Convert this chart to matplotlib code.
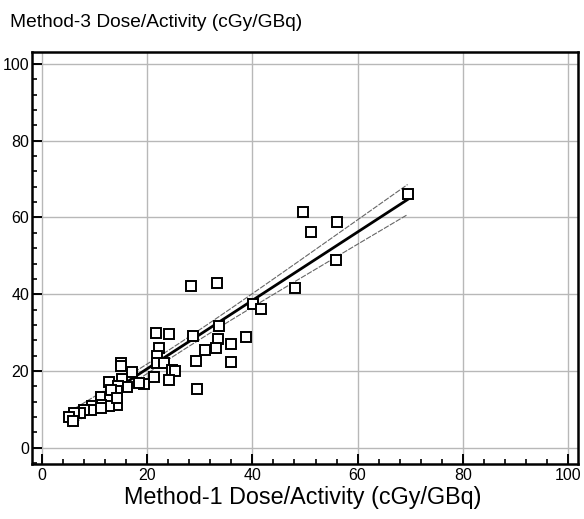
import numpy as np
import matplotlib
matplotlib.use("Agg")
import matplotlib.pyplot as plt
from matplotlib.ticker import MultipleLocator

plt.rcParams['font.family'] = ['Liberation Sans', 'DejaVu Sans']

# Method-1 (x) vs Method-3 (y) dose/activity, cGy/GBq
method1 = [69.5, 49.6, 56.1, 51.1, 55.9, 48.1, 28.3, 33.2, 40.1, 41.6,
           33.6, 28.8, 33.5, 38.8, 30.9, 33.1, 36.0, 29.3, 35.9, 21.7,
           24.1, 22.2, 21.9, 21.8, 23.1, 24.7, 25.3, 21.3, 24.1, 29.4,
           15.0, 15.1, 17.2, 15.3, 12.7, 19.3, 18.4, 16.1, 14.4, 14.2,
           11.2, 12.9, 14.3, 12.7, 11.3, 9.6, 9.4, 7.9, 7.2, 6.1,
           5.2, 5.8, 13.2, 11.3, 14.2]
method3 = [66.1, 61.4, 58.9, 56.2, 49.0, 41.7, 42.2, 42.9, 37.4, 36.1,
           31.6, 29.2, 28.4, 28.8, 25.5, 26.0, 27.0, 22.7, 22.4, 29.9,
           29.6, 25.9, 23.8, 22.1, 22.1, 20.3, 20.1, 18.4, 17.7, 15.3,
           22.1, 21.4, 19.7, 18.0, 17.1, 16.6, 16.8, 15.8, 16.0, 14.8,
           13.2, 12.8, 11.2, 10.9, 11.2, 10.8, 9.9, 9.9, 9.2, 9.0,
           8.0, 6.9, 15.1, 10.3, 12.9]

# regression line
fit_intercept = 2.8
fit_slope = 0.89

x_ticks = [0, 20, 40, 60, 80, 100]
y_ticks = [0, 20, 40, 60, 80, 100]

x = np.array(method1)
y = np.array(method3)
n = len(x)
xf = np.linspace(x.min(), x.max(), 200)
yf = fit_intercept + fit_slope * xf
resid = y - (fit_intercept + fit_slope * x)
s = np.sqrt(np.sum(resid ** 2) / (n - 2))
sxx = np.sum((x - x.mean()) ** 2)
hw = 1.6 * s * np.sqrt(1.0 / n + (xf - x.mean()) ** 2 / sxx)

fig = plt.figure(figsize=(5.84, 5.19), dpi=100)
ax = fig.add_axes([0.0548, 0.106, 0.9349, 0.7940])

ax.set_xlim(-1.9, 101.9)
ax.set_ylim(-4.2, 103.1)
ax.set_xticks(x_ticks)
ax.set_yticks(y_ticks)
ax.xaxis.set_minor_locator(MultipleLocator(4))
ax.yaxis.set_minor_locator(MultipleLocator(4))
ax.grid(True, which='major', color='#b8b8b8', linewidth=1.0)
ax.set_axisbelow(True)
ax.tick_params(which='major', direction='in', length=7, width=1.4, labelsize=11.5, pad=3, color='black')
ax.tick_params(which='minor', direction='in', length=3.5, width=1.2, color='black')
ax.tick_params(axis='y', pad=2)
for sp in ax.spines.values():
    sp.set_linewidth(1.8)

ax.plot(xf, yf + hw, color='#666666', linewidth=0.8, linestyle=(0, (5, 1.2)))
ax.plot(xf, yf - hw, color='#666666', linewidth=0.8, linestyle=(0, (5, 1.2)))
ax.plot(xf, yf, color='black', linewidth=2.0)
ax.plot(x, y, linestyle='none', marker='s', markersize=6.5, markerfacecolor='white',
        markeredgecolor='black', markeredgewidth=1.4)

fig.text(0.017, 0.956, 'Method-3 Dose/Activity (cGy/GBq)', fontsize=13.8, va='center', ha='left')
fig.text(0.519, 0.042, 'Method-1 Dose/Activity (cGy/GBq)', fontsize=16.8, va='center', ha='center')

fig.savefig('out.png', dpi=100)
